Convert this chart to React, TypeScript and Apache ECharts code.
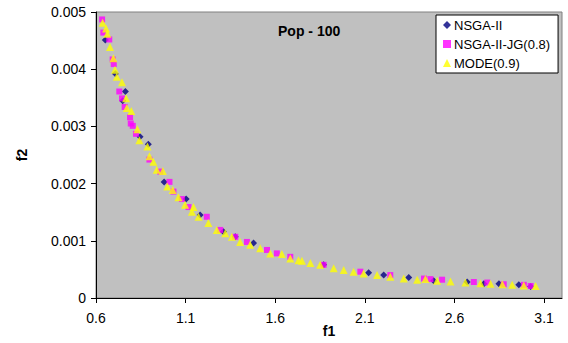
import React, { useEffect, useRef } from "react";
import * as echarts from "echarts";

const xTicks = [0.6, 1.1, 1.6, 2.1, 2.6, 3.1];
const yTicks = [0, 0.001, 0.002, 0.003, 0.004, 0.005];

const nsga2: [number, number][] = [
  [0.652, 0.00451], [0.708, 0.00392], [0.749, 0.00345], [0.764, 0.00361],
  [0.846, 0.00282], [0.892, 0.00269], [0.98, 0.00203], [1.103, 0.00173],
  [1.181, 0.00145], [1.311, 0.00116], [1.377, 0.00107], [1.479, 0.00096],
  [1.87, 0.00058], [2.121, 0.00044], [2.205, 0.0004], [2.345, 0.00036],
  [2.484, 0.0003], [2.671, 0.00028], [2.764, 0.00025], [2.848, 0.00025],
  [2.959, 0.00023], [3.025, 0.0002],
];

const nsga2jg: [number, number][] = [
  [0.634, 0.00487], [0.641, 0.00464], [0.674, 0.00452], [0.693, 0.00417],
  [0.699, 0.00409], [0.73, 0.00361], [0.745, 0.00349], [0.76, 0.00334],
  [0.79, 0.00316], [0.794, 0.00305], [0.805, 0.00301], [0.823, 0.00287],
  [0.898, 0.00242], [0.958, 0.00221], [1.01, 0.00203], [1.032, 0.00186],
  [1.079, 0.00173], [1.116, 0.00159], [1.218, 0.00142], [1.293, 0.00119],
  [1.377, 0.00107], [1.442, 0.00098], [1.554, 0.00084], [1.609, 0.00078],
  [1.684, 0.00072], [1.87, 0.00058], [2.075, 0.00046], [2.242, 0.0004],
  [2.43, 0.00034], [2.466, 0.00033], [2.531, 0.00032], [2.708, 0.00028],
  [2.783, 0.00027], [2.875, 0.00024], [2.987, 0.00023], [3.025, 0.00021],
];

const mode: [number, number][] = [
  [0.637, 0.00481], [0.656, 0.00471], [0.663, 0.00462], [0.678, 0.00439],
  [0.697, 0.00419], [0.706, 0.00399], [0.716, 0.00387], [0.745, 0.00377],
  [0.768, 0.00349], [0.772, 0.00332], [0.797, 0.00327], [0.831, 0.00295],
  [0.842, 0.00276], [0.887, 0.00265], [0.898, 0.00248], [0.92, 0.00238],
  [0.939, 0.00224], [0.973, 0.00222], [0.998, 0.00195], [1.028, 0.00189],
  [1.06, 0.00176], [1.097, 0.00163], [1.135, 0.00151], [1.144, 0.00159],
  [1.172, 0.00142], [1.227, 0.00131], [1.274, 0.00119], [1.321, 0.00113],
  [1.358, 0.00107], [1.404, 0.00098], [1.46, 0.00093], [1.516, 0.00087],
  [1.572, 0.00078], [1.637, 0.00077], [1.684, 0.00069], [1.73, 0.00066],
  [1.749, 0.00065], [1.796, 0.00061], [1.851, 0.00058], [1.926, 0.00052],
  [1.982, 0.00049], [2.037, 0.00046], [2.093, 0.00043], [2.168, 0.0004],
  [2.242, 0.00037], [2.317, 0.00034], [2.392, 0.00032], [2.438, 0.00033],
  [2.503, 0.0003], [2.578, 0.00029], [2.661, 0.00027], [2.745, 0.00026],
  [2.801, 0.00025], [2.867, 0.00024], [2.922, 0.00023], [2.987, 0.00022],
  [3.053, 0.00021],
];

const FONT = "Liberation Sans, Arial, sans-serif";

export default function App() {
  const ref = useRef<HTMLDivElement>(null);
  useEffect(() => {
    if (!ref.current) return;
    const chart = echarts.init(ref.current, undefined, { renderer: "svg" });
    chart.setOption({
      animation: false,
      backgroundColor: "#ffffff",
      textStyle: { fontFamily: FONT },
      title: {
        text: "Pop - 100",
        left: 273,
        top: 19,
        textStyle: { fontSize: 14, fontWeight: "bold", color: "#000", fontFamily: FONT },
      },
      legend: {
        orient: "vertical",
        left: 436,
        top: 15,
        backgroundColor: "#ffffff",
        borderColor: "#000000",
        borderWidth: 1,
        borderRadius: 0,
        padding: [3, 8, 3, 7],
        itemGap: 5,
        itemWidth: 8,
        itemHeight: 8,
        textStyle: { fontSize: 13, color: "#000", fontFamily: FONT, lineHeight: 14, padding: [0, 0, 0, -2] },
        data: [
          { name: "NSGA-II", icon: "diamond" },
          { name: "NSGA-II-JG(0.8)", icon: "rect" },
          { name: "MODE(0.9)", icon: "triangle" },
        ],
      },
      grid: {
        left: 96,
        right: 6,
        top: 12,
        bottom: 45,
        outerBoundsMode: "none",
        containLabel: false,
        show: true,
        backgroundColor: "#C0C0C0",
        borderColor: "#808080",
        borderWidth: 1,
      },
      xAxis: {
        type: "value",
        min: 0.6,
        max: 3.2,
        name: "f1",
        nameLocation: "middle",
        nameGap: 26,
        nameMoveOverlap: false,
        nameTextStyle: { fontSize: 14, lineHeight: 14, fontWeight: "bold", color: "#000", fontFamily: FONT },
        axisLine: { show: true, onZero: false, lineStyle: { color: "#000", width: 1 } },
        axisTick: { show: true, length: 5, customValues: xTicks, lineStyle: { color: "#000" } },
        axisLabel: {
          customValues: xTicks,
          fontSize: 14,
          lineHeight: 14,
          color: "#000",
          margin: 13,
          fontFamily: FONT,
          formatter: (v: number) => String(Math.round(v * 10) / 10),
        },
        splitLine: { show: false },
      },
      yAxis: {
        type: "value",
        min: 0,
        max: 0.005,
        interval: 0.001,
        name: "f2",
        nameLocation: "middle",
        nameGap: 67,
        nameMoveOverlap: false,
        nameRotate: 90,
        nameTextStyle: { fontSize: 14, fontWeight: "bold", color: "#000", fontFamily: FONT },
        axisLine: { show: true, lineStyle: { color: "#000", width: 1 } },
        axisTick: { show: true, length: 5, lineStyle: { color: "#000" } },
        axisLabel: {
          fontSize: 14,
          color: "#000",
          margin: 10,
          fontFamily: FONT,
          formatter: (v: number) => {
            const i = yTicks.findIndex((t) => Math.abs(t - v) < 1e-9);
            return i >= 0 ? String(yTicks[i]) : String(v);
          },
        },
        splitLine: { show: false },
      },
      series: [
        {
          name: "NSGA-II",
          type: "scatter",
          symbol: "diamond",
          symbolSize: 7,
          itemStyle: { color: "#000080" },
          data: nsga2,
        },
        {
          name: "NSGA-II-JG(0.8)",
          type: "scatter",
          symbol: "rect",
          symbolSize: 6,
          itemStyle: { color: "#FF00FF" },
          data: nsga2jg,
        },
        {
          name: "MODE(0.9)",
          type: "scatter",
          symbol: "triangle",
          symbolSize: 8,
          itemStyle: { color: "#FFFF00" },
          data: mode,
        },
      ],
    });
    return () => chart.dispose();
  }, []);
  return <div ref={ref} style={{ width: 568, height: 343, position: "fixed", left: 0, top: 0 }} />;
}
